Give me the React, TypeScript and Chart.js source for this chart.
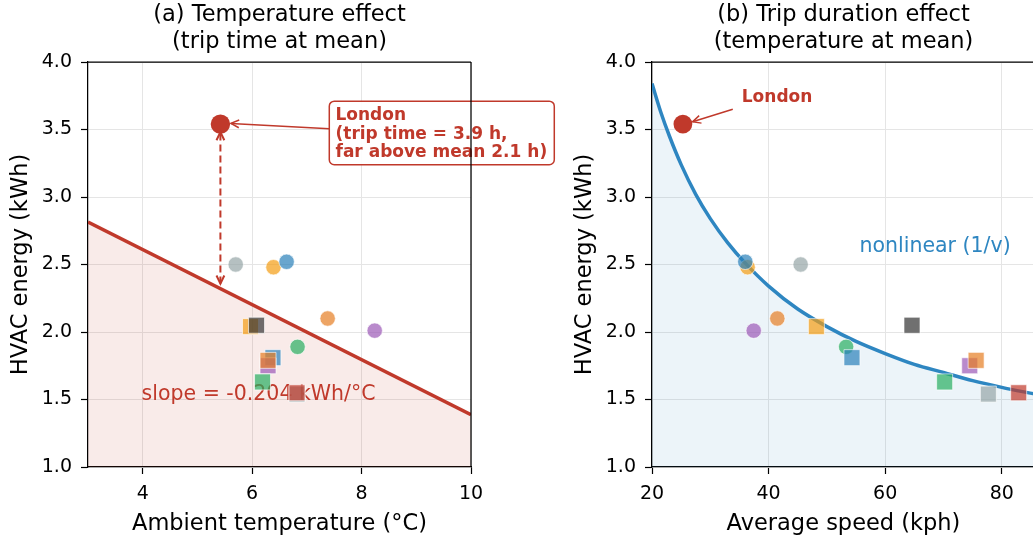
import React, { useEffect, useRef } from 'react';
import { Chart, registerables } from 'chart.js';

Chart.register(...registerables);

const FONT = "'DejaVu Sans', 'Liberation Sans', sans-serif";
const RED = '#c0392b';
const CURVE_BLUE = '#2e86c1';
const GRID = '#e5e5e5';

// ---- Data ----
const cityMarkers = ['circle', 'circle', 'circle', 'circle', 'circle', 'circle', 'rect', 'rect', 'rect', 'rect', 'rect', 'rect', 'rect', 'rect'];
const cityColors = ['#95a5a6', '#f39c12', '#2980b9', '#e67e22', '#9b59b6', '#27ae60', '#f39c12', '#333333', '#2980b9', '#9b59b6', '#e67e22', '#27ae60', '#95a5a6', '#c0392b'];
const cityTemps = [5.70, 6.39, 6.63, 7.38, 8.24, 6.83, 5.97, 6.08, 6.38, 6.29, 6.29, 6.19, 6.82, 6.82];
const citySpeeds = [45.5, 36.4, 36.0, 41.5, 37.45, 53.3, 48.2, 64.6, 54.3, 74.5, 75.6, 70.2, 77.7, 82.9];
const cityEnergy = [2.50, 2.48, 2.52, 2.10, 2.01, 1.89, 2.04, 2.05, 1.81, 1.75, 1.79, 1.63, 1.54, 1.55];

const londonTemp = 5.42;
const londonSpeed = 25.3;
const londonEnergy = 3.54;

const tempLineX = [3, 10];
const tempLineY = [2.815, 1.387];

const speedCurveX = [20, 21.5, 23, 25, 27.5, 30, 33, 36, 40, 45, 50, 55, 60, 65, 70, 75, 80, 85.7];
const speedCurveY = [3.84, 3.63, 3.45, 3.24, 3.02, 2.84, 2.66, 2.51, 2.34, 2.17, 2.04, 1.93, 1.84, 1.76, 1.70, 1.64, 1.59, 1.54];

const tempTicks = [4, 6, 8, 10];
const speedTicks = [20, 40, 60, 80];
const energyTicks = [1.0, 1.5, 2.0, 2.5, 3.0, 3.5, 4.0];

const titleLeft = ['(a) Temperature effect', '(trip time at mean)'];
const titleRight = ['(b) Trip duration effect', '(temperature at mean)'];
const xLabelLeft = 'Ambient temperature (°C)';
const xLabelRight = 'Average speed (kph)';
const yLabel = 'HVAC energy (kWh)';
const slopeText = 'slope = -0.204 kWh/°C';
const curveText = 'nonlinear (1/v)';
const londonBoxLines = ['London', '(trip time = 3.9 h,', 'far above mean 2.1 h)'];

function alpha(hex: string, a: number) {
  const n = parseInt(hex.slice(1), 16);
  return `rgba(${(n >> 16) & 255},${(n >> 8) & 255},${n & 255},${a})`;
}

function drawHead(ctx: CanvasRenderingContext2D, x: number, y: number, ang: number, len = 9, phi = 0.45) {
  ctx.beginPath();
  ctx.moveTo(x - len * Math.cos(ang - phi), y - len * Math.sin(ang - phi));
  ctx.lineTo(x, y);
  ctx.lineTo(x - len * Math.cos(ang + phi), y - len * Math.sin(ang + phi));
  ctx.stroke();
}

function arrow(ctx: CanvasRenderingContext2D, x1: number, y1: number, x2: number, y2: number, width: number, dash: number[], both: boolean) {
  ctx.save();
  ctx.strokeStyle = RED;
  ctx.lineWidth = width;
  ctx.lineCap = 'butt';
  ctx.setLineDash(dash);
  ctx.beginPath();
  ctx.moveTo(x1, y1);
  ctx.lineTo(x2, y2);
  ctx.stroke();
  ctx.setLineDash([]);
  const a = Math.atan2(y2 - y1, x2 - x1);
  drawHead(ctx, x2, y2, a);
  if (both) drawHead(ctx, x1, y1, a + Math.PI);
  ctx.restore();
}

function frameAndLabels(chart: any, title: string[], xLabel: string, drawRight: boolean) {
  const ctx = chart.ctx as CanvasRenderingContext2D;
  const { left, right, top, bottom } = chart.chartArea;
  ctx.save();
  ctx.strokeStyle = '#000';
  ctx.lineWidth = 1.25;
  ctx.beginPath();
  ctx.moveTo(left, top);
  ctx.lineTo(right, top);
  if (drawRight) {
    ctx.moveTo(right, top);
    ctx.lineTo(right, bottom);
  }
  ctx.stroke();
  ctx.fillStyle = '#000';
  ctx.font = `22.5px ${FONT}`;
  ctx.textAlign = 'center';
  ctx.textBaseline = 'alphabetic';
  const cx = (left + right) / 2;
  ctx.fillText(title[0], cx, 20.5);
  ctx.fillText(title[1], cx, 47.5);
  ctx.fillText(xLabel, cx, 529.5);
  ctx.translate(26.7, (top + bottom) / 2);
  ctx.rotate(-Math.PI / 2);
  ctx.fillText(yLabel, 0, 0);
  ctx.restore();
}

function makeScales(xMin: number, xMax: number, xTicks: number[]) {
  const tickFont = { family: FONT, size: 19 };
  return {
    x: {
      type: 'linear',
      min: xMin,
      max: xMax,
      afterFit: (s: any) => { s.height = 72; },
      afterBuildTicks: (s: any) => { s.ticks = xTicks.map((v) => ({ value: v })); },
      grid: { color: GRID, lineWidth: 1, drawTicks: true, tickLength: 7, tickColor: '#000', tickWidth: 1.2 },
      border: { color: '#000', width: 1.25 },
      ticks: { font: tickFont, color: '#000', padding: 9, maxRotation: 0, autoSkip: false, callback: (v: any) => String(v) },
    },
    y: {
      type: 'linear',
      min: 1.0,
      max: 4.0,
      afterFit: (s: any) => { s.width = 88; },
      afterBuildTicks: (s: any) => { s.ticks = energyTicks.map((v) => ({ value: v })); },
      grid: { color: GRID, lineWidth: 1, drawTicks: true, tickLength: 7, tickColor: '#000', tickWidth: 1.2 },
      border: { color: '#000', width: 1.25 },
      ticks: { font: tickFont, color: '#000', padding: 9, autoSkip: false, callback: (v: any) => Number(v).toFixed(1) },
    },
  };
}

function cityDataset(xs: number[]) {
  return {
    type: 'scatter',
    order: 1,
    data: xs.map((x, i) => ({ x, y: cityEnergy[i] })),
    pointStyle: cityMarkers,
    pointRadius: cityMarkers.map((m) => (m === 'rect' ? 11.3 : 7.7)),
    backgroundColor: cityColors.map((c) => alpha(c, 0.7)),
    borderColor: 'rgba(255,255,255,0.8)',
    borderWidth: 0.8,
  };
}

function baseOptions(scales: any, padRight: number) {
  return {
    animation: false,
    responsive: false,
    maintainAspectRatio: false,
    devicePixelRatio: 1,
    layout: { padding: { top: 62, right: padRight, bottom: 0, left: 0 } },
    plugins: { legend: { display: false }, tooltip: { enabled: false }, title: { display: false } },
    scales,
  };
}

function leftConfig(): any {
  const plugin = {
    id: 'leftDecor',
    afterDatasetDraw(chart: any, args: any) {
      if (args.index !== 2) return;
      const ctx = chart.ctx as CanvasRenderingContext2D;
      const xs = chart.scales.x, ys = chart.scales.y;
      ctx.save();
      ctx.fillStyle = RED;
      ctx.font = `20.5px ${FONT}`;
      ctx.textAlign = 'left';
      ctx.textBaseline = 'alphabetic';
      ctx.fillText(slopeText, xs.getPixelForValue(3.98), ys.getPixelForValue(1.5) + 0.5);
      ctx.restore();
    },
    afterDatasetsDraw(chart: any) {
      const ctx = chart.ctx as CanvasRenderingContext2D;
      const xs = chart.scales.x, ys = chart.scales.y;
      const px = xs.getPixelForValue(londonTemp);
      const py = ys.getPixelForValue(londonEnergy);
      const fitY = tempLineY[0] + (tempLineY[1] - tempLineY[0]) * (londonTemp - tempLineX[0]) / (tempLineX[1] - tempLineX[0]);
      const fy = ys.getPixelForValue(fitY);
      arrow(ctx, px, fy - 5, px, py + 8, 2, [7, 4], true);
      // annotation box
      const bx = xs.getPixelForValue(7.41);
      const by = ys.getPixelForValue(3.71);
      const bw = 225, bh = 63.5;
      arrow(ctx, bx, by + 27.7, px + 10.5, py - 0.7, 1.5, [], false);
      ctx.save();
      ctx.beginPath();
      (ctx as any).roundRect(bx, by, bw, bh, 5);
      ctx.fillStyle = 'rgba(255,255,255,0.92)';
      ctx.fill();
      ctx.strokeStyle = RED;
      ctx.lineWidth = 1.5;
      ctx.stroke();
      ctx.fillStyle = RED;
      ctx.font = `bold 17px ${FONT}`;
      ctx.textAlign = 'left';
      ctx.textBaseline = 'alphabetic';
      londonBoxLines.forEach((t, i) => ctx.fillText(t, bx + 6.2, by + 19 + i * 18.5));
      ctx.restore();
    },
    afterDraw(chart: any) {
      frameAndLabels(chart, titleLeft, xLabelLeft, true);
    },
  };
  return {
    type: 'scatter',
    data: {
      datasets: [
        cityDataset(cityTemps),
        {
          type: 'scatter',
          order: 0,
          data: [{ x: londonTemp, y: londonEnergy }],
          pointStyle: 'circle',
          pointRadius: 9.7,
          backgroundColor: RED,
          borderColor: RED,
          borderWidth: 0,
        },
        {
          type: 'line',
          order: 2,
          data: tempLineX.map((x, i) => ({ x, y: tempLineY[i] })),
          borderColor: RED,
          borderWidth: 3.5,
          pointRadius: 0,
          fill: 'start',
          backgroundColor: 'rgba(192,57,43,0.1)',
          tension: 0,
        },
      ],
    },
    options: baseOptions(makeScales(3, 10, tempTicks), 89),
    plugins: [plugin],
  };
}

function rightConfig(): any {
  const plugin = {
    id: 'rightDecor',
    afterDatasetDraw(chart: any, args: any) {
      if (args.index !== 2) return;
      const ctx = chart.ctx as CanvasRenderingContext2D;
      const xs = chart.scales.x, ys = chart.scales.y;
      ctx.save();
      ctx.fillStyle = CURVE_BLUE;
      ctx.font = `20.5px ${FONT}`;
      ctx.textAlign = 'left';
      ctx.textBaseline = 'alphabetic';
      ctx.fillText(curveText, xs.getPixelForValue(55.6), ys.getPixelForValue(2.593));
      ctx.restore();
    },
    afterDatasetsDraw(chart: any) {
      const ctx = chart.ctx as CanvasRenderingContext2D;
      const xs = chart.scales.x, ys = chart.scales.y;
      const px = xs.getPixelForValue(londonSpeed);
      const py = ys.getPixelForValue(londonEnergy);
      const tx = xs.getPixelForValue(35.4);
      const ty = ys.getPixelForValue(3.706);
      arrow(ctx, tx - 9, ty + 7.6, px + 9.7, py - 2.3, 1.5, [], false);
      ctx.save();
      ctx.fillStyle = RED;
      ctx.font = `bold 17px ${FONT}`;
      ctx.textAlign = 'left';
      ctx.textBaseline = 'alphabetic';
      ctx.fillText('London', tx, ty);
      ctx.restore();
    },
    afterDraw(chart: any) {
      frameAndLabels(chart, titleRight, xLabelRight, false);
    },
  };
  return {
    type: 'scatter',
    data: {
      datasets: [
        cityDataset(citySpeeds),
        {
          type: 'scatter',
          order: 0,
          data: [{ x: londonSpeed, y: londonEnergy }],
          pointStyle: 'circle',
          pointRadius: 9.4,
          backgroundColor: RED,
          borderColor: RED,
          borderWidth: 0,
        },
        {
          type: 'line',
          order: 2,
          data: speedCurveX.map((x, i) => ({ x, y: speedCurveY[i] })),
          borderColor: CURVE_BLUE,
          borderWidth: 3.5,
          pointRadius: 0,
          fill: 'start',
          backgroundColor: 'rgba(41,128,185,0.09)',
          cubicInterpolationMode: 'monotone',
        },
      ],
    },
    options: baseOptions(makeScales(20, 85.7, speedTicks), 45),
    plugins: [plugin],
  };
}

export default function App() {
  const leftRef = useRef<HTMLCanvasElement>(null);
  const rightRef = useRef<HTMLCanvasElement>(null);
  useEffect(() => {
    const c1 = new Chart(leftRef.current as HTMLCanvasElement, leftConfig());
    const c2 = new Chart(rightRef.current as HTMLCanvasElement, rightConfig());
    return () => {
      c1.destroy();
      c2.destroy();
    };
  }, []);
  return (
    <div style={{ position: 'absolute', left: 0, top: 0, width: 1033, height: 539, overflow: 'hidden', background: '#fff' }}>
      <canvas ref={rightRef} width={516} height={539} style={{ position: 'absolute', left: 563.5, top: 0, width: 516, height: 539 }} />
      <canvas ref={leftRef} width={560} height={539} style={{ position: 'absolute', left: 0, top: 0, width: 560, height: 539 }} />
    </div>
  );
}
